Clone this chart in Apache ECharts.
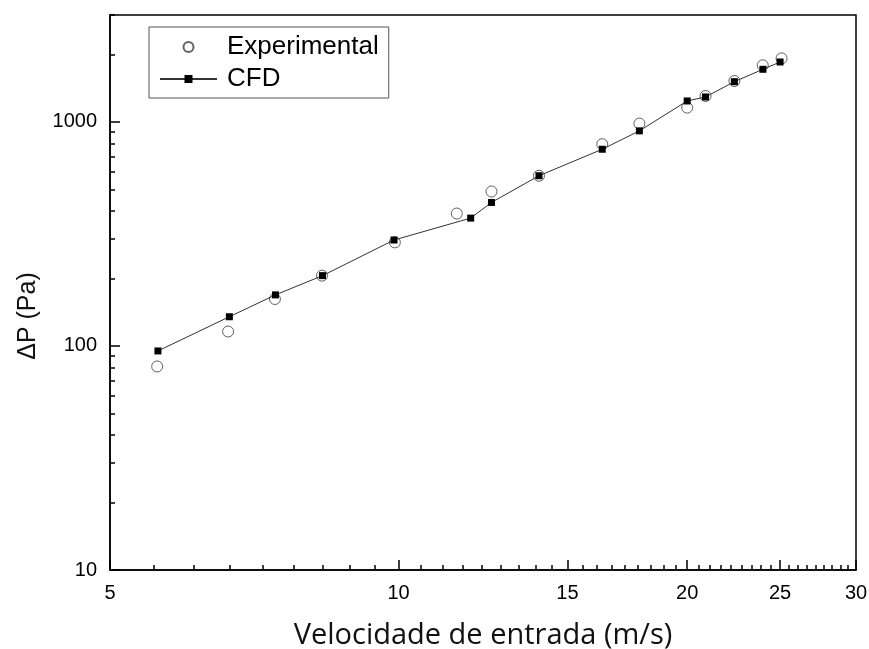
<!DOCTYPE html>
<html>
<head>
<meta charset="utf-8">
<script src="https://cdn.jsdelivr.net/npm/echarts@6/dist/echarts.min.js"></script>
<style>
html,body{margin:0;padding:0;background:#fff;}
#chart{width:869px;height:649px;}
</style>
</head>
<body>
<div id="chart"></div>
<script>
// ---- data ----
var velExp = [5.60, 6.64, 7.43, 8.32, 9.91, 11.50, 12.50, 14.01, 16.31, 17.83, 20.0, 20.9, 22.4, 23.98, 25.09];
var dpExp  = [81, 116, 162, 206, 290, 390, 489, 575, 795, 983, 1158, 1305, 1522, 1789, 1921];
var velCfd = [5.61, 6.66, 7.44, 8.33, 9.89, 11.89, 12.50, 14.01, 16.31, 17.83, 20.0, 20.9, 22.4, 23.99, 25.0];
var dpCfd  = [95, 135, 169, 206, 297, 372, 437, 575, 755, 912, 1240, 1292, 1512, 1717, 1851];
var xTicks = [5, 10, 15, 20, 25, 30];
var yTicks = [10, 100, 1000];
var xRange = [5, 30];
var yRange = [10, 3000];
var seriesNames = ['Experimental', 'CFD'];
var xTitle = 'Velocidade de entrada (m/s)';
var yTitle = 'ΔP (Pa)';

// ---- decoration helpers (tick positions in log space) ----
var lg = Math.log10;
var xMinor = [];
for (var i = 0; i < xTicks.length - 1; i++) {
  var a = xTicks[i], b = xTicks[i + 1];
  for (var k = 1; k < 9; k++) xMinor.push(lg(a + k * (b - a) / 9));
}
var yMinor = [];
yTicks.forEach(function (d) {
  for (var k = 2; k <= 9; k++) { if (d * k <= yRange[1]) yMinor.push(lg(d * k)); }
});

var sans = '"Liberation Sans", Arial, sans-serif';
var black = '#000';

function pairs(xs, ys) { return xs.map(function (x, i) { return [x, ys[i]]; }); }
var fmt = function (v) { return String(Math.round(Math.pow(10, v))); };

var chart = echarts.init(document.getElementById('chart'), null, {renderer: 'canvas'});
chart.setOption({
  animation: false,
  backgroundColor: '#fff',
  grid: {
    left: 110, right: 13, top: 15, bottom: 79,
    containLabel: false, outerBoundsMode: 'none',
    show: true, borderColor: black, borderWidth: 1.5, backgroundColor: 'transparent'
  },
  legend: {
    orient: 'vertical', left: 149, top: 27,
    data: seriesNames,
    borderColor: '#555', borderWidth: 1, borderRadius: 0,
    padding: [7, 10, 6, 10], itemGap: 6,
    itemWidth: 57, itemHeight: 10,
    textStyle: {fontFamily: sans, fontSize: 26, lineHeight: 26, color: black, padding: [0, 0, 0, 5]}
  },
  xAxis: [
    {type: 'log', logBase: 10, min: xRange[0], max: xRange[1], show: true,
     axisLine: {show: false}, axisTick: {show: false}, axisLabel: {show: false}, splitLine: {show: false}},
    {type: 'value', min: lg(xRange[0]), max: lg(xRange[1]), position: 'bottom',
     axisLine: {show: true, lineStyle: {color: black, width: 1.5}},
     axisTick: {show: true, inside: true, length: 10, lineStyle: {color: black, width: 1.5}, customValues: xTicks.map(lg)},
     axisLabel: {show: true, margin: 13, color: black, fontFamily: sans, fontSize: 20, formatter: fmt, customValues: xTicks.map(lg)},
     splitLine: {show: false},
     name: xTitle, nameLocation: 'middle', nameGap: 51,
     nameTextStyle: {fontFamily: '"Open Sans", "Noto Sans", sans-serif', fontSize: 29, color: '#111'}},
    {type: 'value', min: lg(xRange[0]), max: lg(xRange[1]), position: 'bottom',
     axisLine: {show: false},
     axisTick: {show: true, inside: true, length: 5, lineStyle: {color: black, width: 1.5}, customValues: xMinor},
     axisLabel: {show: false}, splitLine: {show: false}}
  ],
  yAxis: [
    {type: 'log', logBase: 10, min: yRange[0], max: yRange[1], show: true,
     axisLine: {show: false}, axisTick: {show: false}, axisLabel: {show: false}, splitLine: {show: false}},
    {type: 'value', min: lg(yRange[0]), max: lg(yRange[1]), position: 'left',
     axisLine: {show: true, lineStyle: {color: black, width: 1.5}},
     axisTick: {show: true, inside: true, length: 10, lineStyle: {color: black, width: 1.5}, customValues: yTicks.map(lg)},
     axisLabel: {show: true, margin: 13, color: black, fontFamily: sans, fontSize: 20, formatter: fmt, customValues: yTicks.map(lg)},
     splitLine: {show: false}},
    {type: 'value', min: lg(yRange[0]), max: lg(yRange[1]), position: 'left',
     axisLine: {show: false},
     axisTick: {show: true, inside: true, length: 5, lineStyle: {color: black, width: 1.5}, customValues: yMinor},
     axisLabel: {show: false}, splitLine: {show: false}}
  ],
  graphic: [{
    type: 'text', x: 28, y: 316, rotation: Math.PI / 2,
    style: {text: yTitle, fontFamily: sans, fontSize: 25, fill: '#111', align: 'center', verticalAlign: 'middle'}
  }],
  series: [
    {name: seriesNames[0], type: 'scatter', xAxisIndex: 0, yAxisIndex: 0,
     data: pairs(velExp, dpExp), symbol: 'circle', symbolSize: 11,
     itemStyle: {color: 'rgba(255,255,255,0)', borderColor: '#3a3a3a', borderWidth: 1}, z: 2},
    {name: seriesNames[1], type: 'line', xAxisIndex: 0, yAxisIndex: 0,
     data: pairs(velCfd, dpCfd), symbol: 'rect', symbolSize: 7, showSymbol: true,
     itemStyle: {color: black}, lineStyle: {color: '#333', width: 1}, z: 3}
  ]
});
</script>
</body>
</html>
